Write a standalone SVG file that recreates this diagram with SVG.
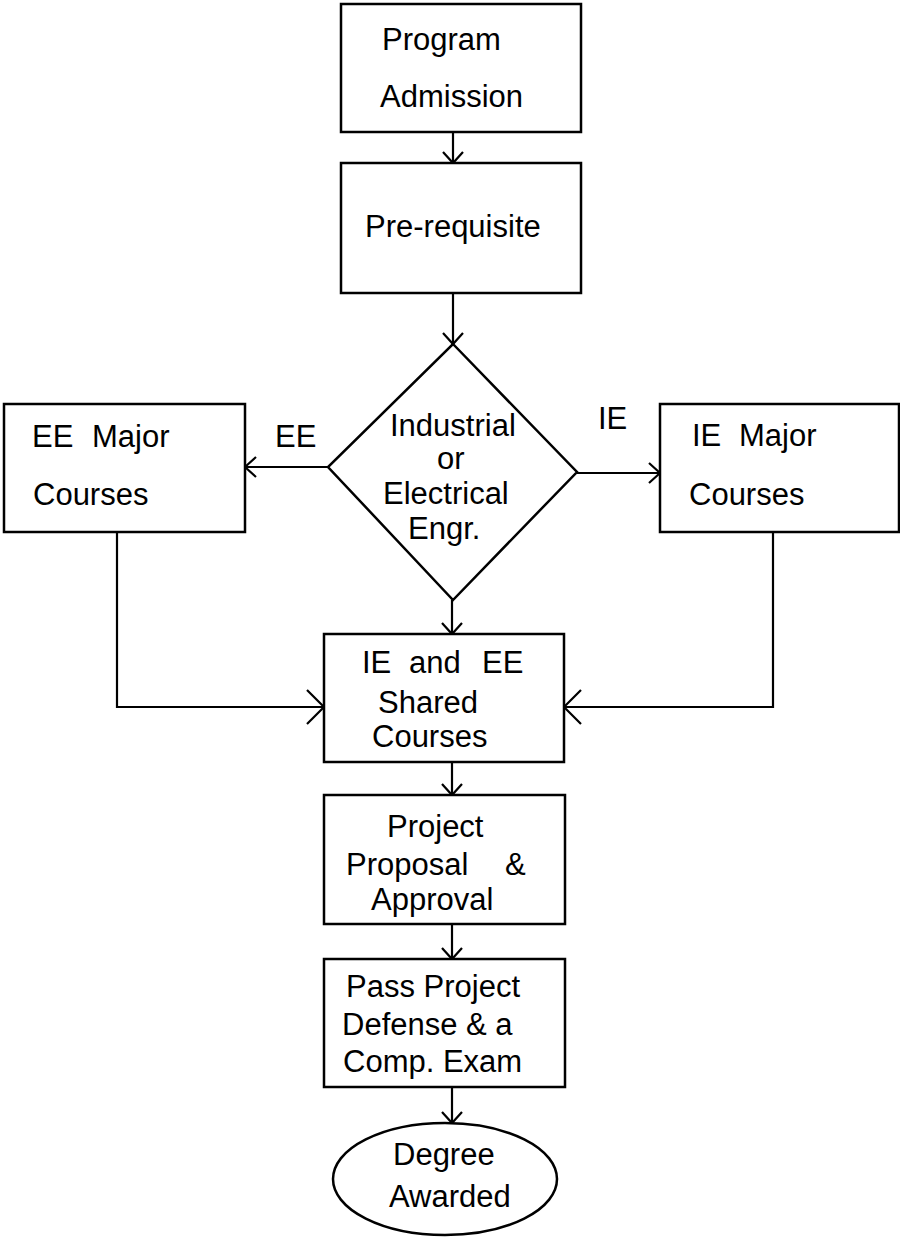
<svg xmlns="http://www.w3.org/2000/svg" width="900" height="1237" viewBox="0 0 900 1237">
<style>
.box{fill:#fff;stroke:#000;stroke-width:2.5}
.ln{fill:none;stroke:#000;stroke-width:2.2}
text{font-family:"Liberation Sans",Arial,sans-serif;font-size:31px;fill:#000}
</style>
<defs>
<marker id="a" viewBox="0 0 11 20" refX="11" refY="10" markerWidth="11" markerHeight="20" markerUnits="userSpaceOnUse" orient="auto" overflow="visible">
<path d="M0,0 L11,10 L0,20" fill="none" stroke="#000" stroke-width="2.2"/>
</marker>
<marker id="b" viewBox="0 0 17 34" refX="17" refY="17" markerWidth="17" markerHeight="34" markerUnits="userSpaceOnUse" orient="auto" overflow="visible">
<path d="M0,0 L17,17 L0,34" fill="none" stroke="#000" stroke-width="2.2"/>
</marker>
</defs>
<rect width="900" height="1237" fill="#fff"/>
<g id="connectors">
<line class="ln" x1="453" y1="132" x2="453" y2="163" marker-end="url(#a)"/>
<line class="ln" x1="453" y1="293" x2="453" y2="344" marker-end="url(#a)"/>
<line class="ln" x1="328" y1="467" x2="245" y2="467" marker-end="url(#a)"/>
<line class="ln" x1="577" y1="473" x2="660" y2="473" marker-end="url(#a)"/>
<line class="ln" x1="452" y1="600" x2="452" y2="634" marker-end="url(#a)"/>
<polyline class="ln" points="117,532 117,707 324,707" marker-end="url(#b)"/>
<polyline class="ln" points="773,532 773,707 564,707" marker-end="url(#b)"/>
<line class="ln" x1="452" y1="762" x2="452" y2="795" marker-end="url(#a)"/>
<line class="ln" x1="452" y1="924" x2="452" y2="959" marker-end="url(#a)"/>
<line class="ln" x1="452" y1="1087" x2="452" y2="1123" marker-end="url(#a)"/>
</g>
<g id="label-ee"><text x="275" y="447">EE</text></g>
<g id="label-ie"><text x="598" y="429">IE</text></g>
<g id="n1">
<rect class="box" x="341" y="4" width="240" height="128"/>
<text x="382" y="50">Program</text>
<text x="380" y="107">Admission</text>
</g>
<g id="n2">
<rect class="box" x="341" y="163" width="240" height="130"/>
<text x="365" y="237">Pre-requisite</text>
</g>
<g id="n3">
<polygon class="box" points="453,344 577,472 453,600 328,467"/>
<text x="390" y="436">Industrial</text>
<text x="437" y="469">or</text>
<text x="383" y="504">Electrical</text>
<text x="408" y="539">Engr.</text>
</g>
<g id="n4">
<rect class="box" x="4" y="404" width="241" height="128"/>
<text x="32" y="447">EE<tspan x="92">Major</tspan></text>
<text x="33" y="505">Courses</text>
</g>
<g id="n5">
<rect class="box" x="660" y="404" width="239" height="128"/>
<text x="692" y="446">IE<tspan x="739">Major</tspan></text>
<text x="689" y="505">Courses</text>
</g>
<g id="n6">
<rect class="box" x="324" y="634" width="240" height="128"/>
<text x="362" y="673">IE<tspan x="409">and</tspan><tspan x="482">EE</tspan></text>
<text x="378" y="713">Shared</text>
<text x="372" y="747">Courses</text>
</g>
<g id="n7">
<rect class="box" x="324" y="795" width="241" height="129"/>
<text x="387" y="837">Project</text>
<text x="346" y="875">Proposal<tspan x="505">&amp;</tspan></text>
<text x="371" y="910">Approval</text>
</g>
<g id="n8">
<rect class="box" x="324" y="959" width="241" height="128"/>
<text x="346" y="997">Pass Project</text>
<text x="342" y="1035">Defense &amp; a</text>
<text x="343" y="1072">Comp. Exam</text>
</g>
<g id="n9">
<ellipse class="box" cx="445" cy="1179" rx="112" ry="56"/>
<text x="393" y="1165">Degree</text>
<text x="389" y="1207">Awarded</text>
</g>
</svg>
